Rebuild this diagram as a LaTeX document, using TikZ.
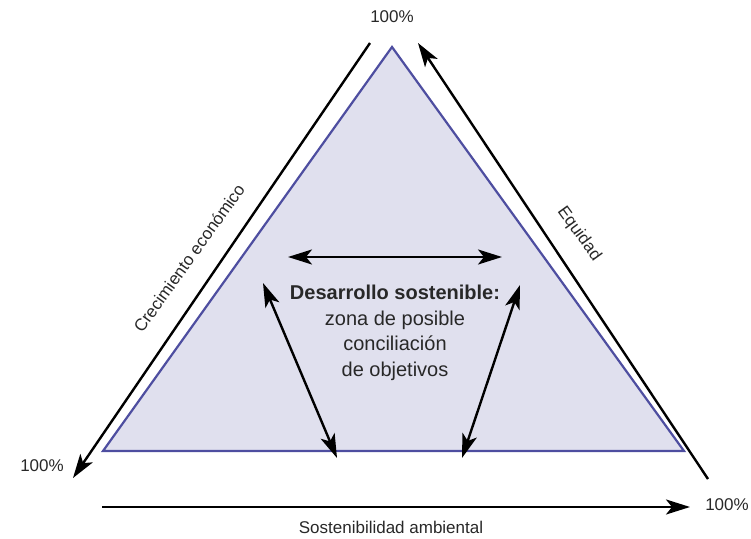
\documentclass[tikz,border=0pt]{standalone}
\usepackage{fontspec}
\setmainfont{Liberation Sans}
\usetikzlibrary{arrows.meta}

\definecolor{zona}{RGB}{224,224,238}
\definecolor{borde}{RGB}{78,78,160}
\definecolor{texto}{RGB}{40,40,40}

\begin{document}
\begin{tikzpicture}
  [x=1pt,y=1pt,
   punta/.tip={Stealth[length=24pt,width=15pt,inset=6pt]},
   flecha/.style={line width=2.4pt,-punta},
   doble/.style={line width=2.4pt,punta-punta},
   etiqueta/.style={text=texto,font=\fontsize{17}{20}\selectfont,inner sep=0pt}]
  \useasboundingbox (0,0) rectangle (751,538);

  \coordinate (A) at (392,491);
  \coordinate (B) at (103,87);
  \coordinate (C) at (684,87);
  \filldraw[fill=zona,draw=borde,line width=2.2pt,line join=miter] (A) -- (B) -- (C) -- cycle;

  \coordinate (e1) at (370,495);
  \coordinate (e2) at (73,60);
  \coordinate (q1) at (708,59);
  \coordinate (q2) at (418,495);
  \coordinate (s1) at (102,31);
  \coordinate (s2) at (690,31);

  \foreach \from/\to in {e1/e2,q1/q2,s1/s2}
    \draw[flecha] (\from) -- (\to);

  \node[etiqueta] (top) at (392,521) {100\%};
  \node[etiqueta] (izq) at (42,72) {100\%};
  \node[etiqueta] (der) at (727,33) {100\%};
  \node[etiqueta] (amb) at (391,11) {Sostenibilidad ambiental};
  \node[etiqueta,rotate=54.4] (eco) at (189,280) {Crecimiento económico};
  \node[etiqueta,rotate=-54] (equ) at (579,304) {Equidad};

  \node[align=center,text=texto,inner sep=0pt,font=\fontsize{20}{25.5}\selectfont] (des) at (395,205)
    {\textbf{Desarrollo sostenible:}\\zona de posible\\conciliación\\de objetivos};

  \coordinate (h1) at (288,281);
  \coordinate (h2) at (502,281);
  \coordinate (l1) at (263,255);
  \coordinate (l2) at (337,80);
  \coordinate (r1) at (520,253);
  \coordinate (r2) at (462,80);

  \foreach \from/\to in {h1/h2,l1/l2,r1/r2}
    \draw[doble] (\from) -- (\to);

\end{tikzpicture}
\end{document}
